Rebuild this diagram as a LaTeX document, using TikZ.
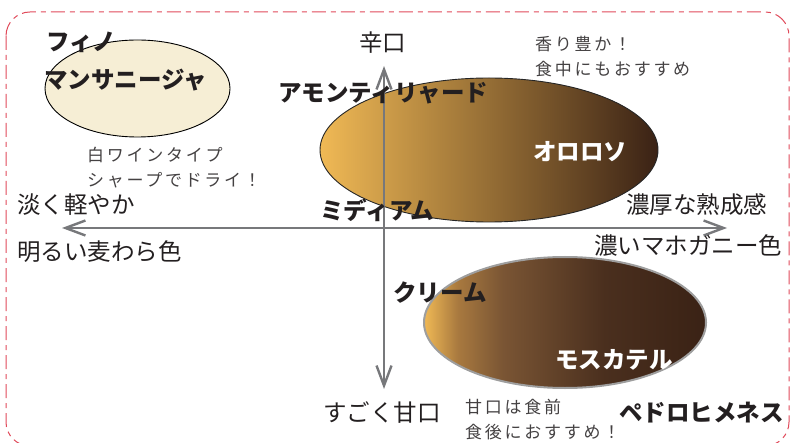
\documentclass[tikz,border=0pt]{standalone}
\usepackage{fontspec}
\setmainfont{Noto Sans CJK JP}
\newfontfamily\hand[LetterSpace=16]{Noto Sans CJK JP}
\usetikzlibrary{shapes.geometric,arrows.meta}
\definecolor{axisgray}{HTML}{77787B}
\definecolor{txt}{HTML}{231F20}
\definecolor{bordred}{HTML}{E04A5A}
\definecolor{cream}{HTML}{F6EED5}
\definecolor{gold}{HTML}{F0B955}
\definecolor{darkbrown}{HTML}{3A2215}
\definecolor{lightbrown}{HTML}{A8793F}
\definecolor{midbrown}{HTML}{7A5534}
\definecolor{deepbrown}{HTML}{4A2F1E}
\pgfdeclarehorizontalshading{moscatelshade}{100bp}{color(0bp)=(gold); color(25bp)=(gold); color(31bp)=(lightbrown); color(39bp)=(midbrown); color(57bp)=(deepbrown); color(75bp)=(darkbrown); color(100bp)=(darkbrown)}
\tikzset{
  lbl/.style={anchor=west, inner sep=0pt, text=txt, font=\fontsize{23.5pt}{27pt}\selectfont},
  blbl/.style={lbl, font=\fontsize{23.5pt}{27pt}\selectfont\bfseries},
  wlbl/.style={blbl, text=white},
  handlbl/.style={anchor=west, inner sep=0pt, text=txt!85, align=left, font=\fontsize{17pt}{25pt}\selectfont\hand},
  axisline/.style={draw=axisgray, line width=2.4pt, arrows={Straight Barb[length=20pt,width=15pt]-Straight Barb[length=20pt,width=15pt]}},
  blob/.style={ellipse, inner sep=0pt, outer sep=0pt}
}
\begin{document}
\begin{tikzpicture}[x=1pt,y=-1pt]
\useasboundingbox (0,0) rectangle (791,443);
% border
\draw[bordred, line width=1pt, rounded corners=24pt, dash pattern=on 14pt off 5pt on 5pt off 5pt] (6,12) rectangle (789,446);
% ellipses
\node[blob, draw=black, line width=0.9pt, fill=cream, minimum width=185pt, minimum height=97pt] (fino) at (137.5,88.5) {};
\node[blob, draw=black!85, line width=0.9pt, left color=gold, right color=darkbrown, minimum width=338pt, minimum height=144pt] (oloroso) at (489,150) {};
\node[blob, draw=black!38, line width=2pt, shading=moscatelshade, minimum width=282pt, minimum height=131pt] (moscatel) at (565,322.5) {};
% axes
\coordinate (L) at (62,228);
\coordinate (R) at (727,228);
\coordinate (T) at (384,66);
\coordinate (B) at (384,389);
\draw[axisline] (L) -- (R);
\draw[axisline] (B) -- (T);
% labels
\node[blbl] (t1) at (46,42) {フィノ};
\node[blbl] (t2) at (44,80) {マンサニージャ};
\node[handlbl] (t3) at (87,168) {白ワインタイプ\\シャープでドライ！};
\node[lbl] (t4) at (17,205) {淡く軽やか};
\node[lbl] (t5) at (17,252) {明るい麦わら色};
\node[lbl] (t6) at (359,43) {辛口};
\node[blbl] (t7) at (278,93) {アモンティリャード};
\node[handlbl] (t8) at (535,57) {香り豊か！\\食中にもおすすめ};
\node[wlbl] (t9) at (533,152) {オロロソ};
\node[blbl] (t10) at (320,210) {ミディアム};
\node[lbl] (t11) at (626,205) {濃厚な熟成感};
\node[lbl] (t12) at (594,246) {濃いマホガニー色};
\node[blbl] (t13) at (393,293) {クリーム};
\node[wlbl] (t14) at (555,360) {モスカテル};
\node[lbl] (t15) at (323,413) {すごく甘口};
\node[handlbl] (t16) at (465,420) {甘口は食前\\食後におすすめ！};
\node[blbl] (t17) at (619,413) {ペドロヒメネス};
\end{tikzpicture}
\end{document}
